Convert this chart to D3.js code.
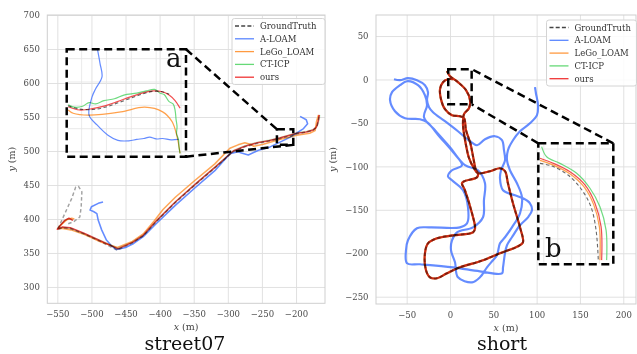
<!DOCTYPE html>
<html>
<head>
<meta charset="utf-8">
<script src="https://cdn.jsdelivr.net/npm/d3@7/dist/d3.min.js"></script>
<style>
  body { margin: 0; background: #fff; }
  text { font-family: "DejaVu Serif", serif; }
</style>
</head>
<body>
<svg id="fig" width="637" height="354"></svg>
<script>
// ---------- shared ----------
const seriesNames = ['GroundTruth', 'A-LOAM', 'LeGo_LOAM', 'CT-ICP', 'ours'];

// ---------- street07 ----------
const streetXTicks = [-550, -500, -450, -400, -350, -300, -250, -200];
const streetYTicks = [300, 350, 400, 450, 500, 550, 600, 650, 700];

const streetGT = [[-534, 393], [-526, 396], [-517, 403], [-515, 418], [-514, 440], [-519, 448], [-523, 447], [-529, 430], [-539, 408], [-548, 388], [-550, 384], [-543, 387], [-531, 386], [-511, 378], [-487, 367], [-462, 354], [-440, 365], [-424, 375], [-404, 397], [-377, 424], [-348, 450], [-319, 475], [-292, 499], [-275, 506], [-257, 511], [-224, 518], [-199, 525], [-175, 530], [-169, 537], [-166, 552]];
const streetALOAM = [[-483, 425], [-490, 423], [-500, 418], [-502, 413], [-497, 411], [-492, 408], [-490, 398], [-485, 384], [-478, 369], [-470, 360], [-463, 355], [-450, 358], [-438, 364], [-424, 374], [-404, 394], [-377, 420], [-348, 446], [-319, 471], [-297, 496], [-285, 499], [-280, 497], [-270, 494], [-255, 501], [-238, 506], [-209, 520], [-189, 533], [-183, 540], [-185, 546], [-194, 551]];
const streetLeGo = [[-525, 400], [-529, 401], [-536, 399], [-545, 391], [-549, 386], [-542, 386], [-530, 384], [-510, 377], [-486, 366], [-462, 358], [-440, 367], [-424, 378], [-408, 397], [-395, 414], [-377, 432], [-348, 457], [-319, 481], [-297, 504], [-285, 509], [-275, 512], [-267, 510], [-262, 507], [-248, 510], [-224, 517], [-199, 523], [-180, 526], [-172, 530], [-170, 543], [-167, 553]];
const streetCTICP = [[-528, 399], [-535, 400], [-540, 397], [-547, 389], [-549, 386], [-542, 388], [-530, 386], [-510, 378], [-486, 368], [-461, 357], [-440, 366], [-423, 377], [-403, 399], [-376, 426], [-347, 452], [-318, 477], [-291, 501], [-274, 508], [-256, 513], [-239, 516], [-223, 520], [-198, 527], [-184, 529], [-174, 532], [-170, 535], [-168, 539], [-166, 547], [-165, 553]];
const streetOurs = [[-527, 398], [-533, 401], [-539, 398], [-546, 390], [-550, 385], [-543, 388], [-531, 387], [-511, 379], [-487, 368], [-461, 356], [-439, 366], [-424, 376], [-404, 398], [-377, 425], [-348, 451], [-319, 476], [-292, 500], [-275, 507], [-257, 512], [-240, 515], [-224, 519], [-199, 526], [-185, 528], [-175, 531], [-171, 534], [-169, 538], [-167, 546], [-166, 553]];

// zoomed window "a"
const zoomABox = [[-228, 509], [-204, 532]];
const zoomAGT = [[-227.7, 519.9], [-225.4, 519.2], [-222.8, 519.1], [-220.3, 519.6], [-217.8, 520.5], [-215.2, 521.5], [-212.8, 522.4], [-210.6, 523], [-208.8, 522.9], [-207.4, 522.4]];
const zoomAALOAM = [[-221.9, 532.5], [-221.3, 529], [-220.9, 526.1], [-222.2, 523.5], [-222.9, 521.8], [-223.5, 517.9], [-221.9, 515.8], [-219.7, 513.6], [-217.7, 512.5], [-215.5, 512.4], [-213.9, 512.7], [-212.5, 512.9], [-211.3, 513.2], [-210, 512.8], [-208.7, 512.9], [-207, 512.6], [-205.5, 512.7]];
const zoomALeGo = [[-227.7, 519], [-226.7, 518.3], [-223.5, 517.9], [-217.1, 518.6], [-212.3, 519.6], [-208.7, 518.6], [-206.8, 516.5], [-205.8, 513.3], [-205.2, 509.7]];
const zoomACTICP = [[-227.7, 520.1], [-226.5, 519.6], [-224.8, 519.8], [-223.5, 520.6], [-222.2, 520.3], [-220.5, 521], [-218.4, 521.4], [-216.5, 522.2], [-213.9, 522.6], [-212, 523.1], [-210.3, 523.4], [-209.2, 522.6], [-208.4, 522.3], [-207.4, 520.8], [-206.6, 520.3], [-206.2, 519], [-206, 517], [-205.8, 515.4], [-205.9, 514], [-205.5, 512.6], [-205.4, 511], [-205.2, 509.7]];
const zoomAOurs = [[-227.7, 519.7], [-225.4, 519], [-222.8, 519.3], [-220.3, 519.9], [-217.8, 520.8], [-215.2, 521.8], [-212.8, 522.6], [-210.6, 523.1], [-208.8, 522.9], [-207.4, 522.2], [-206.2, 521], [-205.2, 519.4]];

// ---------- short ----------
const shortXTicks = [-50, 0, 50, 100, 150, 200];
const shortYTicks = [-250, -200, -150, -100, -50, 0, 50];

const shortOurs = [[-3.5, 9.6], [0, 3.8], [9.2, -3.1], [18.5, -12.3], [23.1, -23.8], [21.9, -33.1], [16.2, -39.9], [15, -52.6], [16.5, -64.2], [18.5, -75.7], [22, -90.6], [27.7, -102.2], [32.3, -107.9], [46.2, -105.6], [57.7, -102.2], [63.5, -105.6], [66.9, -119.5], [72.7, -142.5], [80.8, -170.2], [84.2, -187.4], [78.5, -192], [57.7, -200.1], [38.1, -208.1], [31.2, -210.4], [11.5, -216.2], [-3.5, -223.1], [-15, -228.8], [-23.1, -227.7], [-27.7, -219.6], [-28.9, -200.1], [-25.4, -188.6], [-15, -182.8], [3.5, -179.4], [26.5, -176], [28.9, -171.4], [25.4, -154], [17.3, -127.5], [13.8, -119.5], [16.2, -117.2], [31.2, -112.5], [32.3, -107.9], [30, -104.5], [27, -90.6], [23.5, -73.4], [18.5, -58.4], [16.2, -44.6], [11.5, -42.3], [2.3, -41.1], [-5.8, -34.2], [-10.4, -22.7], [-11.5, -11.2], [-8.1, -3.1], [-2.3, 0.3], [3.5, 0.3]];
// GT, LeGo_LOAM and CT-ICP sit on top of ours at this scale
const shortGT = shortOurs;
const shortLeGo = shortOurs;
const shortCTICP = shortOurs;
const shortALOAM = [[-64.6, 0.3], [-57.7, -0.8], [-48.5, 1.5], [-38.1, -0.8], [-28.9, -6.6], [-25.4, -14.6], [-26.5, -23.8], [-24.2, -31.9], [-19.6, -37.7], [-5.8, -48], [9.2, -59.6], [23.1, -71.1], [31.2, -75.7], [40.4, -68.8], [51.9, -65.3], [60, -69.9], [62.3, -81.4], [63.5, -93], [58.9, -104.5], [57.7, -113.7], [61.2, -127.5], [75, -133.3], [84.2, -136.7], [92.3, -142.5], [94.6, -150.5], [90, -158.6], [80.8, -167.8], [71.5, -181.6], [65.8, -190.8], [63.5, -200], [61.2, -216.2], [60, -223.1], [34.6, -220.8], [3.5, -216.2], [-34.6, -212.7], [-49.6, -211.6], [-50.8, -196.6], [-48.5, -185.1], [-38.1, -171.3], [-23.1, -170.2], [11.5, -170.2], [19.6, -165.6], [20.8, -147.1], [15, -127.5], [2.3, -116], [-2.3, -111.4], [2.3, -104.5], [13.8, -98.7], [3.5, -83.7], [-11.5, -66.5], [-26.5, -49.2], [-34.6, -45.7], [-51.9, -44.6], [-63.5, -36.5], [-69.2, -23.8], [-66.9, -14.6], [-57.7, -6.6], [-49.6, -2], [-36.9, -6.6], [-28.9, -18.1], [-26.5, -29.6], [-30, -43.4], [-17.3, -58.4], [0, -78], [17.3, -98.7], [32.3, -104.5], [40.4, -119.5], [39.2, -139], [38.1, -158.6], [26.5, -170.2], [8.1, -175.9], [2.3, -185.1], [1.2, -196.6], [5.8, -210.4], [9.2, -227.7], [25.4, -233.5], [34.6, -227.7], [42.7, -216.2], [49.6, -208.1], [54.2, -202.4], [57.7, -188.6], [63.5, -181.6], [71.5, -170.2], [80.8, -154], [83.1, -135.6], [77.3, -119.5], [69.2, -104.5], [65.8, -93], [66.9, -81.4], [72.7, -69.9], [80.8, -59.6], [92.3, -50.4], [100.4, -41.1], [101.6, -29.6], [99.2, -15.8], [98.1, -8.9]];

// zoomed window "b"
const zoomBBox = [[-2, -28.5], [25, 11.9]];
const zoomBGT = [[-1.4, 5.2], [2.9, 4.3], [8.7, 1.3], [13.7, -3.7], [17, -9.4], [18.8, -17.1], [19.6, -27.1]];
const zoomBALOAM = [];
const zoomBLeGo = [[-1.4, 6.2], [3.4, 4.6], [9.2, 1.8], [14.4, -2.6], [17.9, -8.5], [20, -16], [20.2, -27.1]];
const zoomBCTICP = [[-0.8, 10.8], [1, 7.4], [5.8, 5.2], [11.8, 1.9], [16.6, -3.1], [20.2, -9.3], [22.4, -17.1], [22.6, -27.1]];
const zoomBOurs = [[-1.4, 6.9], [3.4, 5.2], [9.4, 2.4], [14.8, -2], [18.4, -8.1], [20.6, -15.9], [20.8, -27.1]];

// ---------- styling ----------
const styles = [
  { color: '#444444', width: 1.1, dash: '3.5,2.5' },
  { color: '#3f6fff', width: 1.2, dash: null },
  { color: '#ff8a1f', width: 1.2, dash: null },
  { color: '#3fcf55', width: 1.2, dash: null },
  { color: '#ee2222', width: 1.2, dash: null }
];
const mainOpacity = [0.5, 0.8, 0.75, 0.22, 0.85];
const insetOpacity = [0.8, 0.8, 0.8, 0.75, 0.8];
const legendColors = ['#444444', '#5a86ff', '#ff9a40', '#66d977', '#f03535'];

const svg = d3.select('#fig');
svg.append('rect').attr('width', 637).attr('height', 354).attr('fill', '#fff');
const defs = svg.append('defs');
let clipCount = 0;

const addClip = (x0, y0, w, h) => {
  const id = `clip${clipCount++}`;
  defs.append('clipPath').attr('id', id).append('rect').attr('x', x0).attr('y', y0).attr('width', w).attr('height', h);
  return `url(#${id})`;
};

const drawSeries = (g, data, x, y, curve, opacity, widthScale = 1) => {
  const line = d3.line().x(d => x(d[0])).y(d => y(d[1])).curve(curve);
  data.forEach((pts, i) => {
    if (!pts.length) return;
    const s = styles[i];
    g.append('path')
      .datum(pts)
      .attr('fill', 'none')
      .attr('stroke', s.color)
      .attr('stroke-width', s.width * widthScale)
      .attr('stroke-opacity', opacity[i])
      .attr('stroke-dasharray', s.dash)
      .attr('stroke-linejoin', 'round')
      .style('mix-blend-mode', 'multiply')
      .attr('d', line);
  });
};

const drawPanel = (p) => {
  const x = d3.scaleLinear().domain(p.xDomain).range([p.left, p.right]);
  const y = d3.scaleLinear().domain(p.yDomain).range([p.bottom, p.top]);
  const g = svg.append('g');

  const xAxis = g.append('g').attr('transform', `translate(0,${p.bottom})`)
    .call(d3.axisBottom(x).tickValues(p.xTicks).tickSize(-(p.bottom - p.top)).tickPadding(8).tickFormat(d3.format('d')));
  const yAxis = g.append('g').attr('transform', `translate(${p.left},0)`)
    .call(d3.axisLeft(y).tickValues(p.yTicks).tickSize(-(p.right - p.left)).tickPadding(7.5).tickFormat(d3.format('d')));
  [xAxis, yAxis].forEach(a => {
    a.select('.domain').remove();
    a.selectAll('line').attr('stroke', '#dedede').attr('stroke-width', 0.9);
    a.selectAll('text').attr('fill', '#4a4a4a').attr('font-size', 8.5).attr('font-family', 'DejaVu Serif');
  });

  g.append('rect')
    .attr('x', p.left).attr('y', p.top)
    .attr('width', p.right - p.left).attr('height', p.bottom - p.top)
    .attr('fill', 'none').attr('stroke', '#cfcfcf').attr('stroke-width', 1);

  const plot = g.append('g').attr('clip-path', addClip(p.left, p.top, p.right - p.left, p.bottom - p.top));
  drawSeries(plot, p.series, x, y, p.curve, mainOpacity, p.widthScale);

  // axis labels
  g.append('text')
    .attr('x', (p.left + p.right) / 2).attr('y', p.bottom + 27)
    .attr('text-anchor', 'middle').attr('font-size', 9.5).attr('fill', '#444')
    .html('<tspan font-style="italic">x</tspan> (m)');
  g.append('text')
    .attr('transform', `translate(${p.yLabelX},${(p.top + p.bottom) / 2}) rotate(-90)`)
    .attr('text-anchor', 'middle').attr('font-size', 9.5).attr('fill', '#444')
    .html('<tspan font-style="italic">y</tspan> (m)');

  // caption
  g.append('text')
    .attr('x', p.captionX).attr('y', 350)
    .attr('text-anchor', 'middle')
    .attr('font-family', 'Liberation Serif')
    .attr('font-size', 19).attr('fill', '#111')
    .text(p.caption);

  // legend
  const lg = g.append('g').attr('transform', `translate(${p.legend.x},${p.legend.y})`);
  lg.append('rect').attr('width', p.legend.w).attr('height', 66).attr('rx', 2.5)
    .attr('fill', '#fff').attr('fill-opacity', 0.85).attr('stroke', '#d4d4d4');
  seriesNames.forEach((name, i) => {
    const ry = 7.5 + i * 12.8;
    lg.append('line').attr('x1', 3).attr('x2', 22).attr('y1', ry).attr('y2', ry)
      .attr('stroke', legendColors[i]).attr('stroke-width', 1.3)
      .attr('stroke-dasharray', i === 0 ? '4,2.2' : null);
    lg.append('text').attr('x', 28).attr('y', ry + 3)
      .attr('font-size', 8.5).attr('fill', '#333').text(name);
  });

  return { x, y, g };
};

const drawInset = (panel, ins) => {
  const { x, y, g } = panel;
  const ix = d3.scaleLinear().domain([ins.box[0][0], ins.box[1][0]]).range([ins.rect[0], ins.rect[2]]);
  const iy = d3.scaleLinear().domain([ins.box[0][1], ins.box[1][1]]).range([ins.rect[3], ins.rect[1]]);
  const w = ins.rect[2] - ins.rect[0], h = ins.rect[3] - ins.rect[1];
  const ig = g.append('g');
  const grid = ig.append('g');
  grid.selectAll('.vx').data(ins.xGrid).join('line')
    .attr('x1', d => ix(d)).attr('x2', d => ix(d)).attr('y1', ins.rect[1]).attr('y2', ins.rect[3])
    .attr('stroke', '#e4e4e4').attr('stroke-width', 0.8);
  grid.selectAll('.hy').data(ins.yGrid).join('line')
    .attr('y1', d => iy(d)).attr('y2', d => iy(d)).attr('x1', ins.rect[0]).attr('x2', ins.rect[2])
    .attr('stroke', '#e4e4e4').attr('stroke-width', 0.8);
  const plot = ig.append('g').attr('clip-path', addClip(ins.rect[0], ins.rect[1], w, h));
  drawSeries(plot, ins.series, ix, iy, d3.curveCatmullRom, insetOpacity, 1);

  const dash = { stroke: '#000', width: 2.5, dash: '8,4.5' };
  const box = [x(ins.box[0][0]), y(ins.box[1][1]), x(ins.box[1][0]), y(ins.box[0][1])];
  [ins.rect, box].forEach(r => {
    g.append('rect').attr('x', r[0]).attr('y', r[1]).attr('width', r[2] - r[0]).attr('height', r[3] - r[1])
      .attr('fill', 'none').attr('stroke', dash.stroke).attr('stroke-width', dash.width).attr('stroke-dasharray', dash.dash);
  });
  ins.links.forEach(([a, b]) => {
    const pa = [ins.rect[0] + a[0] * w, ins.rect[1] + a[1] * h];
    const pb = [box[0] + b[0] * (box[2] - box[0]), box[1] + b[1] * (box[3] - box[1])];
    g.append('line').attr('x1', pa[0]).attr('y1', pa[1]).attr('x2', pb[0]).attr('y2', pb[1])
      .attr('stroke', dash.stroke).attr('stroke-width', dash.width).attr('stroke-dasharray', dash.dash);
  });
  g.append('text').attr('x', ins.label.x).attr('y', ins.label.y)
    .attr('font-family', 'Liberation Serif').attr('font-size', 26).attr('fill', '#111')
    .text(ins.label.text);
};

const street = drawPanel({
  left: 47.3, right: 325, top: 15, bottom: 303.3,
  xDomain: [-564.7, -157.5], yDomain: [276, 700],
  xTicks: streetXTicks, yTicks: streetYTicks,
  series: [streetGT, streetALOAM, streetLeGo, streetCTICP, streetOurs],
  curve: d3.curveLinear, widthScale: 1.3,
  yLabelX: 15, caption: 'street07', captionX: 185,
  legend: { x: 232, y: 18.5, w: 93 }
});
drawInset(street, {
  box: zoomABox, rect: [66.7, 49.3, 186, 156.7],
  xGrid: [-225, -220, -215, -210, -205], yGrid: [510, 515, 520, 525, 530],
  series: [zoomAGT, zoomAALOAM, zoomALeGo, zoomACTICP, zoomAOurs],
  links: [[[1, 0], [0, 0]], [[1, 1], [1, 1]]],
  label: { x: 166, y: 67, text: 'a' }
});

const short = drawPanel({
  left: 376, right: 636, top: 15, bottom: 304,
  xDomain: [-85.4, 214.7], yDomain: [-258.4, 74.2],
  xTicks: shortXTicks, yTicks: shortYTicks,
  series: [shortGT, shortALOAM, shortLeGo, shortCTICP, shortOurs],
  curve: d3.curveCatmullRom, widthScale: 1.8,
  yLabelX: 336, caption: 'short', captionX: 502,
  legend: { x: 546.5, y: 20, w: 90 }
});
drawInset(short, {
  box: zoomBBox, rect: [538.3, 143.3, 613.3, 264.3],
  xGrid: [0, 5, 10, 15, 20], yGrid: [-25, -20, -15, -10, -5, 0, 5, 10],
  series: [zoomBGT, zoomBALOAM, zoomBLeGo, zoomBCTICP, zoomBOurs],
  links: [[[1, 0], [1, 0]], [[0, 0], [1, 1]]],
  label: { x: 545, y: 257, text: 'b' }
});
</script>
</body>
</html>
